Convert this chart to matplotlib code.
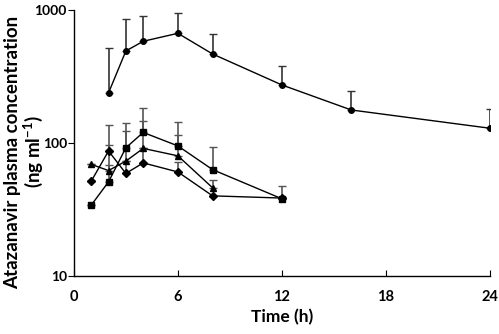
import matplotlib
matplotlib.use("Agg")
import matplotlib.pyplot as plt
import numpy as np

plt.rcParams['font.family'] = ['Lato', 'DejaVu Sans']
plt.rcParams['font.weight'] = 'bold'
plt.rcParams['mathtext.fontset'] = 'custom'
plt.rcParams['mathtext.rm'] = 'Lato:bold'
plt.rcParams['mathtext.bf'] = 'Lato:bold'
plt.rcParams['mathtext.default'] = 'bf'

# Upper curve (circles)
t_circle = [2, 3, 4, 6, 8, 12, 16, 24]
y_circle = [238, 492, 582, 668, 467, 273, 177, 129]
top_circle = [521, 851, 897, 955, 657, 381, 245, 180]

# Squares
t_square = [1, 2, 3, 4, 6, 8, 12]
y_square = [34, 51, 92, 120, 95, 63, 38]
top_square = [34, 68, 142, 182, 144, 94, 47.5]

# Triangles
t_tri = [1, 2, 3, 4, 6, 8]
y_tri = [69, 62, 73, 91, 80, 46]
top_tri = [69, 96, 123, 146, 115, 53]

# Diamonds
t_dia = [1, 2, 3, 4, 6, 8, 12]
y_dia = [51.5, 87, 59, 70.8, 60.5, 40, 38.5]
top_dia = [51.5, 136, 73, 91, 72, 40, 38.5]

fig = plt.figure(figsize=(4.99, 3.34), dpi=100)
ax = fig.add_axes([0.148, 0.174, 0.834, 0.796])

def draw(t, y, top, marker, ms, ecol):
    t = np.array(t, float); y = np.array(y, float); top = np.array(top, float)
    err = np.vstack([np.zeros_like(y), top - y])
    ax.errorbar(t, y, yerr=err, fmt='none', ecolor=ecol, elinewidth=1.2,
                capsize=3, capthick=1.0, zorder=2)
    ax.plot(t, y, color='black', lw=1.0, marker=marker, ms=ms,
            markerfacecolor='black', markeredgecolor='black', zorder=3)

draw(t_circle, y_circle, top_circle, 'o', 4, '#333333')
draw(t_square, y_square, top_square, 's', 5, '#555555')
draw(t_tri, y_tri, top_tri, '^', 5, '#555555')
draw(t_dia, y_dia, top_dia, 'D', 4.5, '#555555')

ax.set_yscale('log')
ax.set_ylim(10, 1000)
ax.set_xlim(0, 24)
ax.set_xticks([0, 6, 12, 18, 24])
ax.set_yticks([10, 100, 1000])
ax.set_yticklabels(['10', '100', '1000'])
ax.yaxis.set_minor_locator(matplotlib.ticker.NullLocator())
ax.spines['top'].set_visible(False)
ax.spines['right'].set_visible(False)
ax.spines['left'].set_linewidth(1.0)
ax.spines['bottom'].set_linewidth(1.0)
ax.tick_params(axis='x', direction='in', length=4, width=0.8, labelsize=10.5, pad=10)
ax.tick_params(axis='y', direction='out', length=4, width=0.8, labelsize=10, pad=1)
for lab in ax.get_xticklabels() + ax.get_yticklabels():
    lab.set_fontweight('bold')

ax.set_xlabel('Time (h)', fontsize=12.5, fontweight='bold', labelpad=4)
fig.text(0.025, 0.545, 'Atazanavir plasma concentration', rotation=90,
         fontsize=13.5, fontweight='bold', ha='center', va='center')
fig.text(0.067, 0.545, '(ng ml$^{-1}$)', rotation=90,
         fontsize=13.5, fontweight='bold', ha='center', va='center')

fig.savefig('out.png', dpi=100)
